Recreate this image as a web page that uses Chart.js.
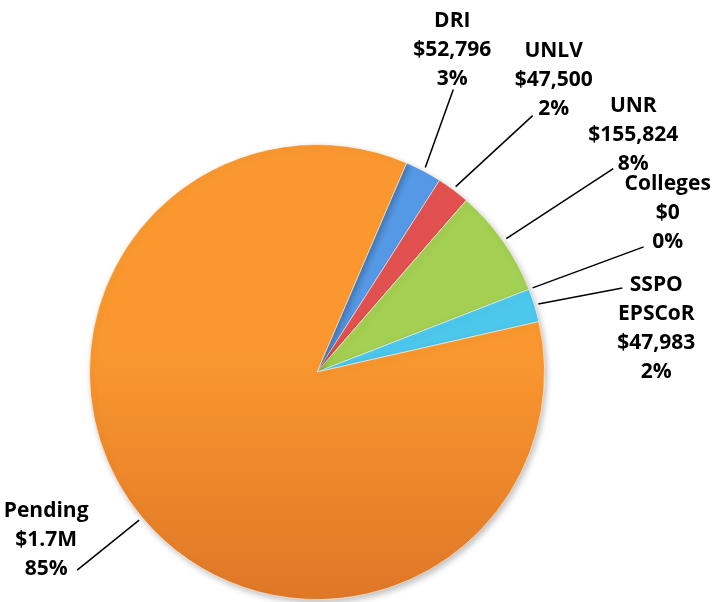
<!DOCTYPE html>
<html><head><meta charset="utf-8">
<script src="https://cdn.jsdelivr.net/npm/chart.js@4"></script>
<style>html,body{margin:0;padding:0;background:#fff}canvas{display:block}</style>
</head><body>
<canvas id="c" width="722" height="602"></canvas>
<script>
const categories = ['DRI', 'UNLV', 'UNR', 'Colleges', 'SSPO EPSCoR', 'Pending'];
const values = [52796, 47500, 155824, 0, 47983, 1723000];
const nameLines = [['DRI'], ['UNLV'], ['UNR'], ['Colleges'], ['SSPO', 'EPSCoR'], ['Pending']];
const amountLabels = ['$52,796', '$47,500', '$155,824', '$0', '$47,983', '$1.7M'];
const percentLabels = ['3%', '2%', '8%', '0%', '2%', '85%'];
const colorsTop = ['#5599E6', '#E2514F', '#A3CF52', '#55D0F2', '#4CC8EC', '#FA982F'];
const colorsBottom = ['#3E80CC', '#C93E42', '#8FB843', '#3FB8DE', '#3FB8DE', '#DF7727'];

// label layout: leader end offset from slice edge, and text offset from leader end
const leaderOffsets = [[28, -78], [77, -71], [107, -70], [111, -41], [84, -16], [-62, 50]];
const textOffsets = [[-1, -68], [21, -65], [20, -63], [24, -63], [34, -3], [-31, -59]];

const labelPlugin = {
  id: 'pieLabels',
  afterDatasetsDraw(chart) {
    const ctx = chart.ctx;
    const meta = chart.getDatasetMeta(0);
    ctx.save();
    meta.data.forEach((arc, i) => {
      const p = arc.getProps(['x', 'y', 'startAngle', 'endAngle', 'outerRadius'], true);
      const mid = (p.startAngle + p.endAngle) / 2;
      const ax = p.x + Math.cos(mid) * (p.outerRadius + 4);
      const ay = p.y + Math.sin(mid) * (p.outerRadius + 4);
      const ex = ax + leaderOffsets[i][0];
      const ey = ay + leaderOffsets[i][1];
      ctx.strokeStyle = '#000';
      ctx.lineWidth = 1.5;
      ctx.beginPath();
      ctx.moveTo(ax, ay);
      ctx.lineTo(ex, ey);
      ctx.stroke();
      const lines = nameLines[i].concat([amountLabels[i], percentLabels[i]]);
      ctx.fillStyle = '#000';
      ctx.font = 'bold 21px "Open Sans", sans-serif';
      ctx.textAlign = 'center';
      ctx.textBaseline = 'middle';
      const tx = ex + textOffsets[i][0];
      let ty = ey + textOffsets[i][1];
      lines.forEach((t, k) => ctx.fillText(t, tx, ty + k * 29));
    });
    ctx.restore();
  }
};

const shadowPlugin = {
  id: 'shadow',
  beforeDatasetsDraw(chart) {
    const ctx = chart.ctx;
    ctx.save();
    ctx.shadowColor = 'rgba(0,0,0,0.25)';
    ctx.shadowBlur = 6;
    ctx.shadowOffsetX = 2;
    ctx.shadowOffsetY = 3;
  },
  afterDatasetsDraw(chart) {
    chart.ctx.restore();
  }
};

new Chart(document.getElementById('c'), {
  type: 'pie',
  data: {
    labels: categories,
    datasets: [{
      data: values,
      backgroundColor: (c) => {
        const chart = c.chart;
        const area = chart.chartArea;
        const i = c.dataIndex;
        if (!area) return colorsTop[i];
        const g = chart.ctx.createLinearGradient(0, area.top, 0, area.bottom);
        g.addColorStop(0, colorsTop[i]);
        g.addColorStop(0.45, colorsTop[i]);
        g.addColorStop(1, colorsBottom[i]);
        return g;
      },
      borderColor: 'rgba(255,255,255,0.55)',
      borderWidth: 1
    }]
  },
  options: {
    responsive: false,
    animation: false,
    rotation: 23.2,
    layout: { padding: { left: 89, right: 177, top: 144, bottom: 2 } },
    plugins: { legend: { display: false }, tooltip: { enabled: false } }
  },
  plugins: [shadowPlugin, labelPlugin]
});
</script>
</body></html>
